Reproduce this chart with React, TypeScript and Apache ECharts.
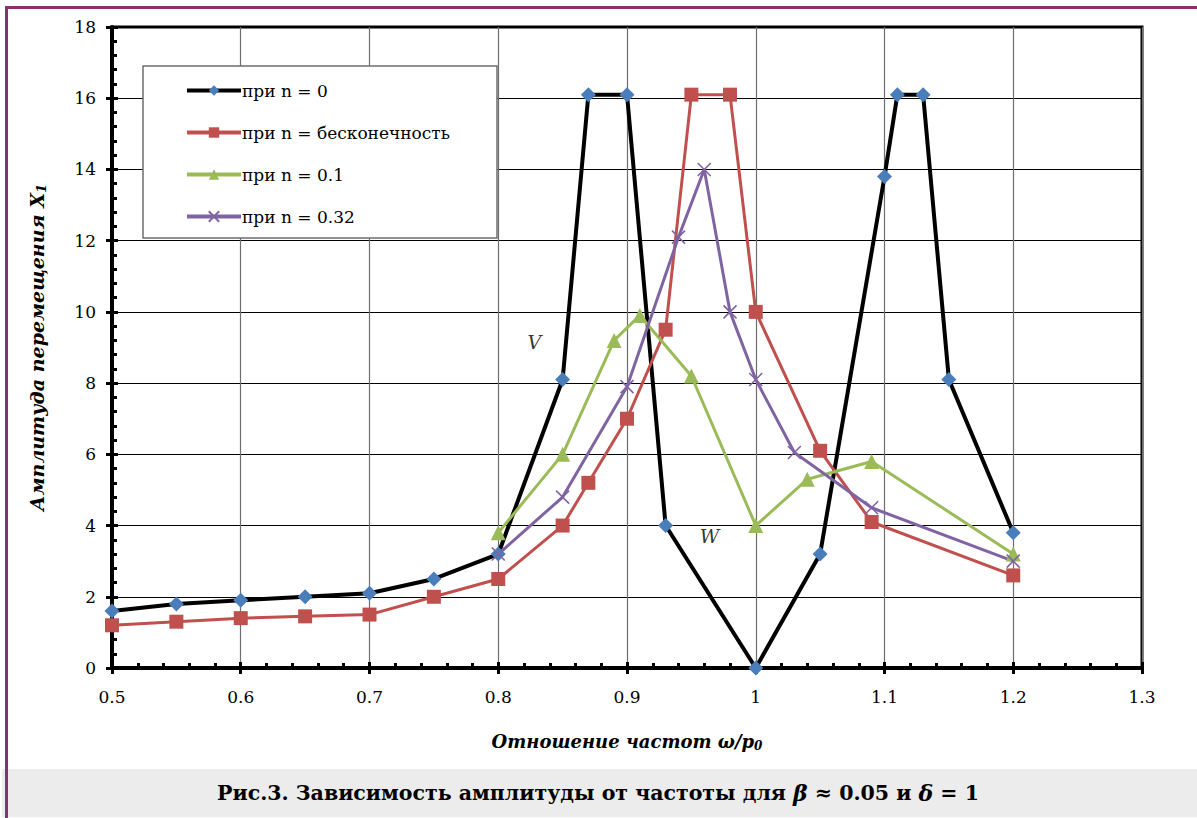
import React, { useEffect, useRef } from "react";
import * as echarts from "echarts";

const xTicks = { min: 0.5, max: 1.3, step: 0.1 };
const yTicks = { min: 0, max: 18, step: 2 };

const seriesNames = ["при n = 0", "при n = бесконечность", "при n = 0.1", "при n = 0.32"];

const xN0 = [0.5, 0.55, 0.6, 0.65, 0.7, 0.75, 0.8, 0.85, 0.87, 0.9, 0.93, 1.0, 1.05, 1.1, 1.11, 1.13, 1.15, 1.2];
const yN0 = [1.6, 1.8, 1.9, 2.0, 2.1, 2.5, 3.2, 8.1, 16.1, 16.1, 4.0, 0, 3.2, 13.8, 16.1, 16.1, 8.1, 3.8];

const xInf = [0.5, 0.55, 0.6, 0.65, 0.7, 0.75, 0.8, 0.85, 0.87, 0.9, 0.93, 0.95, 0.98, 1.0, 1.05, 1.09, 1.2];
const yInf = [1.2, 1.3, 1.4, 1.45, 1.5, 2.0, 2.5, 4.0, 5.2, 7.0, 9.5, 16.1, 16.1, 10.0, 6.1, 4.1, 2.6];

const xN01 = [0.8, 0.85, 0.89, 0.91, 0.95, 1.0, 1.04, 1.09, 1.2];
const yN01 = [3.8, 6.0, 9.2, 9.9, 8.2, 4.0, 5.3, 5.8, 3.2];

const xN032 = [0.8, 0.85, 0.9, 0.94, 0.96, 0.98, 1.0, 1.03, 1.09, 1.2];
const yN032 = [3.2, 4.8, 7.9, 12.1, 14.0, 10.0, 8.1, 6.05, 4.5, 3.0];

const annoText = ["V", "W"];
const annoX = [0.828, 0.964];
const annoY = [9.15, 3.7];

const FONT = "DejaVu Serif";

const zip = (xs: number[], ys: number[]) => xs.map((x, i) => [x, ys[i]]);

export default function App() {
  const ref = useRef<HTMLDivElement>(null);
  useEffect(() => {
    document.body.style.margin = "0";
    if (!ref.current) return;
    const chart = echarts.init(ref.current, undefined, { renderer: "svg" });
    const gridPos = { left: 112, top: 27, right: 55, bottom: 150 };
    const fmt = (v: number) => String(Math.round(v * 10) / 10);
    const option: any = {
      animation: false,
      backgroundColor: "#ffffff",
      grid: [
        { ...gridPos, show: true, borderColor: "#000", borderWidth: 3, backgroundColor: "transparent" },
        { ...gridPos, show: false },
      ],
      xAxis: [
        {
          type: "value",
          gridIndex: 0,
          min: xTicks.min,
          max: xTicks.max,
          interval: xTicks.step,
          axisLine: { show: true, onZero: false, lineStyle: { color: "#000", width: 4 } },
          axisTick: { show: true, inside: true, length: 6, lineStyle: { color: "#000", width: 3 } },
          minorTick: { show: true, splitNumber: 5, length: 5, lineStyle: { color: "#000", width: 3 } },
          axisLabel: { formatter: fmt, color: "#000", fontFamily: FONT, fontSize: 17, margin: 20 },
          splitLine: { show: true, lineStyle: { color: "#6e6e6e", width: 1.2 } },
          name: "{a|Отношение частот ω/p}{s|0}",
          nameLocation: "middle",
          nameGap: 62,
          nameTextStyle: {
            rich: {
              a: { fontFamily: FONT, fontSize: 18, fontStyle: "italic", fontWeight: "bold", color: "#000" },
              s: { fontFamily: FONT, fontSize: 12, fontStyle: "italic", fontWeight: "bold", color: "#000", padding: [10, 0, 0, 0] },
            },
          },
        },
        {
          type: "value",
          gridIndex: 1,
          min: xTicks.min,
          max: xTicks.max,
          interval: xTicks.step,
          axisLine: { show: false },
          axisTick: { show: true, inside: false, length: 6, lineStyle: { color: "#000", width: 3 } },
          axisLabel: { show: false },
          splitLine: { show: false },
        },
      ],
      yAxis: [
        {
          type: "value",
          gridIndex: 0,
          min: yTicks.min,
          max: yTicks.max,
          interval: yTicks.step,
          axisLine: { show: true, onZero: false, lineStyle: { color: "#000", width: 4 } },
          axisTick: { show: true, inside: true, length: 6, lineStyle: { color: "#000", width: 3 } },
          minorTick: { show: true, splitNumber: 5, length: 5, lineStyle: { color: "#000", width: 3 } },
          axisLabel: { color: "#000", fontFamily: FONT, fontSize: 17, margin: 16 },
          splitLine: { show: true, lineStyle: { color: "#000", width: 1.2 } },
          name: "{a|Амплитуда перемещения X}{s|1}",
          nameLocation: "middle",
          nameGap: 64,
          nameTextStyle: {
            rich: {
              a: { fontFamily: FONT, fontSize: 19, fontStyle: "italic", fontWeight: "bold", color: "#000" },
              s: { fontFamily: FONT, fontSize: 13, fontStyle: "italic", fontWeight: "bold", color: "#000", padding: [10, 0, 0, 0] },
            },
          },
        },
        {
          type: "value",
          gridIndex: 1,
          min: yTicks.min,
          max: yTicks.max,
          interval: yTicks.step,
          axisLine: { show: false },
          axisTick: { show: true, inside: false, length: 6, lineStyle: { color: "#000", width: 3 } },
          axisLabel: { show: false },
          splitLine: { show: false },
        },
      ],
      legend: {
        show: true,
        orient: "vertical",
        left: 180,
        top: 77,
        itemWidth: 54,
        itemHeight: 13,
        itemGap: 25,
        data: seriesNames,
        lineStyle: { width: 4 },
        textStyle: { fontFamily: FONT, fontSize: 17, color: "#000", padding: [0, 0, 0, -4] },
        z: 5,
      },
      graphic: [
        {
          type: "rect",
          z: 3,
          shape: { x: 143, y: 66, width: 354, height: 172 },
          style: { fill: "#ffffff", stroke: "#6e6e6e", lineWidth: 1.5 },
        },
        {
          type: "rect",
          z: 1,
          shape: { x: 2, y: 769, width: 1195, height: 48 },
          style: { fill: "#ebeceb" },
        },
        {
          type: "line",
          z: 2,
          shape: { x1: 6.5, y1: 6, x2: 6.5, y2: 818 },
          style: { stroke: "#8b2f6e", lineWidth: 3 },
        },
        {
          type: "line",
          z: 2,
          shape: { x1: 5, y1: 7.5, x2: 1197, y2: 7.5 },
          style: { stroke: "#8b2f6e", lineWidth: 3 },
        },
        {
          type: "text",
          z: 2,
          x: 598,
          y: 793,
          style: {
            text: "{b|Рис.3. Зависимость амплитуды от частоты для }{i|β}{b| ≈ 0.05 и }{i|δ}{b| = 1}",
            align: "center",
            verticalAlign: "middle",
            rich: {
              b: { fontFamily: FONT, fontSize: 20.5, fontWeight: "bold", fill: "#000" },
              i: { fontFamily: FONT, fontSize: 22, fontWeight: "bold", fontStyle: "italic", fill: "#000" },
            },
          },
        },
      ],
      series: [
        {
          name: seriesNames[0],
          type: "line",
          xAxisIndex: 0,
          yAxisIndex: 0,
          data: zip(xN0, yN0),
          symbol: "diamond",
          symbolSize: 15,
          lineStyle: { color: "#000000", width: 4 },
          itemStyle: { color: "#4a7ebb" },
          z: 4,
        },
        {
          name: seriesNames[1],
          type: "line",
          xAxisIndex: 0,
          yAxisIndex: 0,
          data: zip(xInf, yInf),
          symbol: "rect",
          symbolSize: 14,
          lineStyle: { color: "#c0504d", width: 3 },
          itemStyle: { color: "#c0504d" },
          z: 4,
        },
        {
          name: seriesNames[2],
          type: "line",
          xAxisIndex: 0,
          yAxisIndex: 0,
          data: zip(xN01, yN01),
          symbol: "triangle",
          symbolSize: 15,
          lineStyle: { color: "#9bbb59", width: 3 },
          itemStyle: { color: "#9bbb59" },
          z: 4,
        },
        {
          name: seriesNames[3],
          type: "line",
          xAxisIndex: 0,
          yAxisIndex: 0,
          data: zip(xN032, yN032),
          symbol: "path://M0,0L12,12M12,0L0,12",
          symbolSize: 13,
          lineStyle: { color: "#8064a2", width: 3 },
          itemStyle: { color: "rgba(0,0,0,0)", borderColor: "#8064a2", borderWidth: 1.6 },
          z: 4,
        },
        {
          name: "anno",
          type: "scatter",
          xAxisIndex: 0,
          yAxisIndex: 0,
          symbolSize: 1,
          itemStyle: { color: "rgba(0,0,0,0)" },
          data: annoX.map((x, i) => ({ value: [x, annoY[i]], name: annoText[i] })),
          label: {
            show: true,
            position: "inside",
            formatter: (p: any) => p.name,
            fontFamily: FONT,
            fontSize: 19,
            fontStyle: "italic",
            color: "#000",
          },
          silent: true,
          z: 4,
        },
      ],
    };
    chart.setOption(option);
    return () => chart.dispose();
  }, []);
  return <div ref={ref} style={{ width: 1197, height: 818 }} />;
}
